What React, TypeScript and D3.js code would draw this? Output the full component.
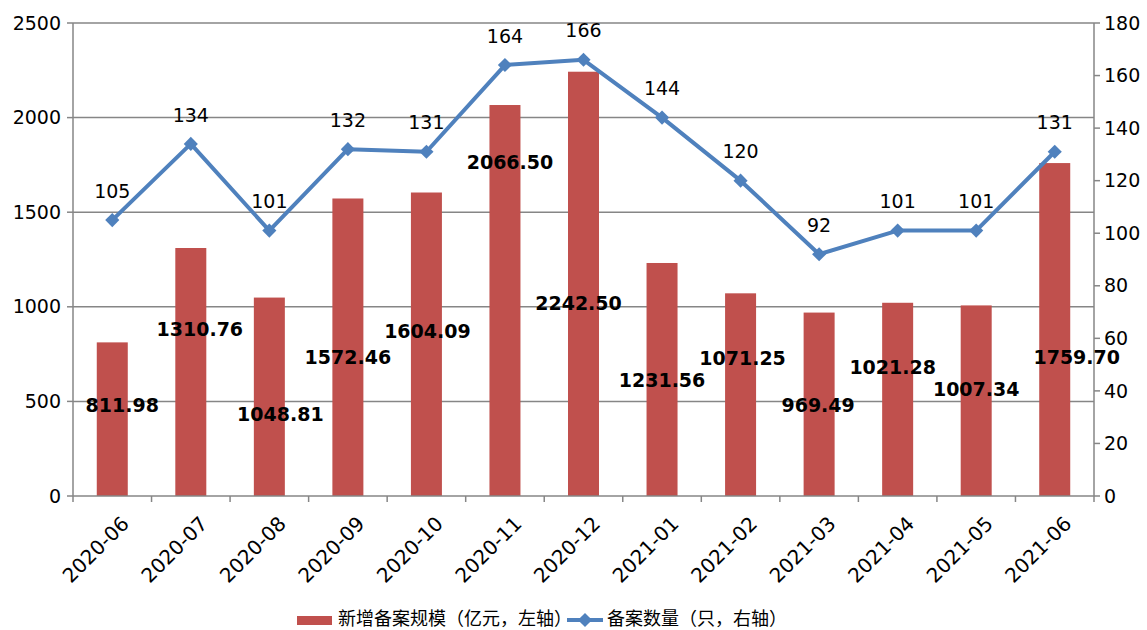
import React from "react";
import * as d3 from "d3";

const months = ["2020-06", "2020-07", "2020-08", "2020-09", "2020-10", "2020-11", "2020-12", "2021-01", "2021-02", "2021-03", "2021-04", "2021-05", "2021-06"];
const scale = [811.98, 1310.76, 1048.81, 1572.46, 1604.09, 2066.5, 2242.5, 1231.56, 1071.25, 969.49, 1021.28, 1007.34, 1759.7];
const count = [105, 134, 101, 132, 131, 164, 166, 144, 120, 92, 101, 101, 131];
const leftTicks = [0, 500, 1000, 1500, 2000, 2500];
const rightTicks = [0, 20, 40, 60, 80, 100, 120, 140, 160, 180];

// where each bar label sits, in left-axis units, plus a small x shift
const labelAt = [481, 883, 433, 735, 872, 1765, 1020, 613, 729, 481, 682, 566, 735];
const labelDx = [10, 9, 11, 0, 1, 5, -5, 0, 2, -1, -5, 0, 22];

const W = 1147, H = 630;
const m = { l: 73, r: 1094, t: 23, b: 496 };
const grey = "#868686";
const red = "#C0504D";
const blue = "#4F81BD";
const font = "'DejaVu Sans', sans-serif";
const cjk = "'Noto Sans CJK SC', sans-serif";

export default function App() {
  const x = d3.scaleBand().domain(months).range([m.l, m.r]);
  const yL = d3.scaleLinear().domain([0, 2500]).range([m.b, m.t]);
  const yR = d3.scaleLinear().domain([0, 180]).range([m.b, m.t]);
  const bw = 31;
  const cx = (d: string) => (x(d) as number) + x.bandwidth() / 2;

  const line = d3.line<number>().x((_, i) => cx(months[i])).y((d) => yR(d));

  return (
    <svg width={W} height={H} style={{ position: "absolute", left: 0, top: 0, background: "#fff" }}>
      {/* grid + left ticks */}
      {leftTicks.map((t) => (
        <g key={t}>
          {t > 0 && <line x1={m.l} x2={m.r} y1={yL(t)} y2={yL(t)} stroke={grey} strokeWidth={1.5} />}
          <line x1={m.l - 6} x2={m.l} y1={yL(t)} y2={yL(t)} stroke={grey} strokeWidth={1.5} />
          <text x={m.l - 12} y={yL(t)} dy="0.35em" textAnchor="end" fontFamily={font} fontSize={19} fill="#000">{t}</text>
        </g>
      ))}
      {rightTicks.map((t) => (
        <g key={t}>
          <line x1={m.r} x2={m.r + 6} y1={yR(t)} y2={yR(t)} stroke={grey} strokeWidth={1.5} />
          <text x={m.r + 10} y={yR(t)} dy="0.35em" textAnchor="start" fontFamily={font} fontSize={19} fill="#000">{t}</text>
        </g>
      ))}
      {/* bars */}
      {scale.map((v, i) => (
        <rect key={i} x={cx(months[i]) - bw / 2} y={yL(v)} width={bw} height={yL(0) - yL(v)} fill={red} />
      ))}
      {/* axes */}
      <line x1={m.l} x2={m.l} y1={m.t} y2={m.b} stroke={grey} strokeWidth={1.5} />
      <line x1={m.r} x2={m.r} y1={m.t} y2={m.b + 6} stroke={grey} strokeWidth={1.5} />
      <line x1={m.l} x2={m.r} y1={m.b} y2={m.b} stroke={grey} strokeWidth={1.5} />
      {months.map((d) => (
        <line key={d} x1={x(d)} x2={x(d)} y1={m.b} y2={m.b + 6} stroke={grey} strokeWidth={1.5} />
      ))}
      {months.map((d) => (
        <text key={d} transform={`translate(${cx(d) + 13},${m.b + 24}) rotate(-45)`} textAnchor="end" dy="0.35em" fontFamily={font} fontSize={20} fill="#000">{d}</text>
      ))}
      {/* line */}
      <path d={line(count) || ""} fill="none" stroke={blue} strokeWidth={4} strokeLinejoin="round" />
      {count.map((v, i) => (
        <rect key={i} x={cx(months[i]) - 5} y={yR(v) - 5} width={10} height={10} fill={blue} transform={`rotate(45,${cx(months[i])},${yR(v)})`} />
      ))}
      {count.map((v, i) => (
        <text key={i} x={cx(months[i])} y={yR(v) - 29} dy="0.35em" textAnchor="middle" fontFamily={font} fontSize={19} fill="#000">{v}</text>
      ))}
      {/* bar labels */}
      {scale.map((v, i) => (
        <text key={i} x={cx(months[i]) + labelDx[i]} y={yL(labelAt[i])} dy="0.35em" textAnchor="middle" fontFamily={font} fontWeight="bold" fontSize={19} fill="#000">{v.toFixed(2)}</text>
      ))}
      {/* legend */}
      <rect x={297} y={616} width={35} height={9} fill={red} />
      <text x={338} y={619} dy="0.35em" fontFamily={cjk} fontSize={18} fill="#000">新增备案规模（亿元，左轴）</text>
      <line x1={567} x2={603} y1={620} y2={620} stroke={blue} strokeWidth={4} />
      <rect x={580} y={615} width={10} height={10} fill={blue} transform="rotate(45,585,620)" />
      <text x={607} y={619} dy="0.35em" fontFamily={cjk} fontSize={18} fill="#000">备案数量（只，右轴）</text>
    </svg>
  );
}
